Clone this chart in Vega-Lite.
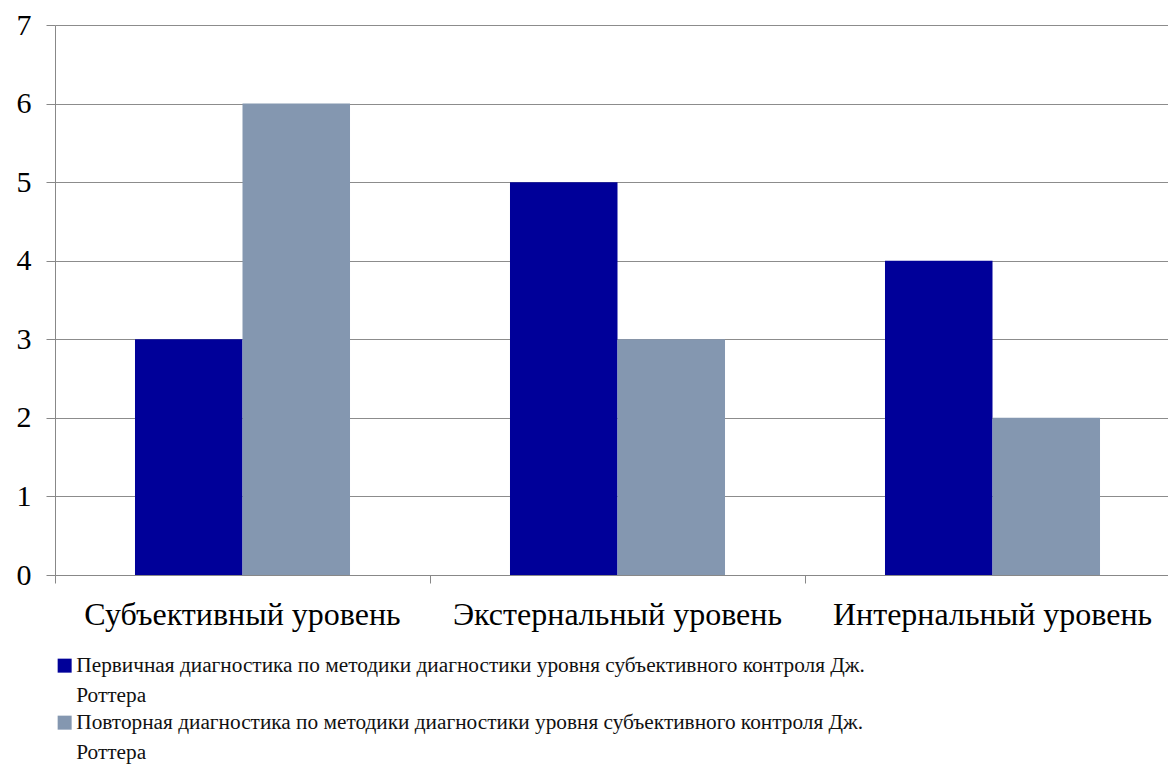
{
  "$schema": "https://vega.github.io/schema/vega-lite/v6.json",
  "width": 1113,
  "height": 550,
  "autosize": "none",
  "padding": {"left": 55, "top": 25, "right": 0, "bottom": 190},
  "background": "white",
  "data": {
    "values": [
      {"level": "Субъективный уровень", "series": "Первичная диагностика по методики диагностики уровня субъективного контроля Дж. Роттера", "value": 3},
      {"level": "Субъективный уровень", "series": "Повторная диагностика по методики диагностики уровня субъективного контроля Дж. Роттера", "value": 6},
      {"level": "Экстернальный уровень", "series": "Первичная диагностика по методики диагностики уровня субъективного контроля Дж. Роттера", "value": 5},
      {"level": "Экстернальный уровень", "series": "Повторная диагностика по методики диагностики уровня субъективного контроля Дж. Роттера", "value": 3},
      {"level": "Интернальный уровень", "series": "Первичная диагностика по методики диагностики уровня субъективного контроля Дж. Роттера", "value": 4},
      {"level": "Интернальный уровень", "series": "Повторная диагностика по методики диагностики уровня субъективного контроля Дж. Роттера", "value": 2}
    ]
  },
  "mark": {"type": "bar"},
  "encoding": {
    "x": {
      "field": "level", "type": "nominal", "sort": null,
      "scale": {"paddingInner": 0, "paddingOuter": 0, "range": [0, 1125]},
      "axis": {
        "title": null, "labelAngle": 0, "bandPosition": 0,
        "labelFont": "Liberation Serif", "labelFontSize": 32, "labelColor": "black",
        "labelPadding": 41, "tickSize": 8, "tickColor": "#888888", "domainColor": "#888888",
        "labelLimit": 500, "labelBaseline": "alphabetic"
      }
    },
    "xOffset": {
      "field": "series", "type": "nominal",
      "scale": {"paddingOuter": 0.744, "paddingInner": 0}
    },
    "y": {
      "field": "value", "type": "quantitative",
      "scale": {"domain": [0, 7], "nice": false},
      "axis": {
        "title": null, "values": [0, 1, 2, 3, 4, 5, 6, 7], "labelOverlap": false,
        "labelFont": "Liberation Serif", "labelFontSize": 30, "labelColor": "black",
        "labelPadding": 15, "tickSize": 9, "tickColor": "#888888", "domainColor": "#888888",
        "grid": true, "gridColor": "#8c8c8c", "gridWidth": 1
      }
    },
    "color": {
      "field": "series", "type": "nominal",
      "scale": {"range": ["#000099", "#8497B0"]},
      "legend": {
        "title": null, "orient": "none", "legendX": -1, "legendY": 630,
        "direction": "vertical",
        "labelFont": "Liberation Serif", "labelFontSize": 21.3, "labelColor": "#111111",
        "labelLimit": 1000, "symbolType": "square", "symbolSize": 196,
        "symbolStrokeWidth": 0, "labelOffset": 1, "rowPadding": 5,
        "labelExpr": "[replace(datum.label, ' Роттера', ''), 'Роттера']"
      }
    }
  },
  "config": {
    "view": {"stroke": null},
    "axis": {"domainWidth": 1, "tickWidth": 1},
    "style": {"guide-label": {"lineHeight": 30}}
  }
}
